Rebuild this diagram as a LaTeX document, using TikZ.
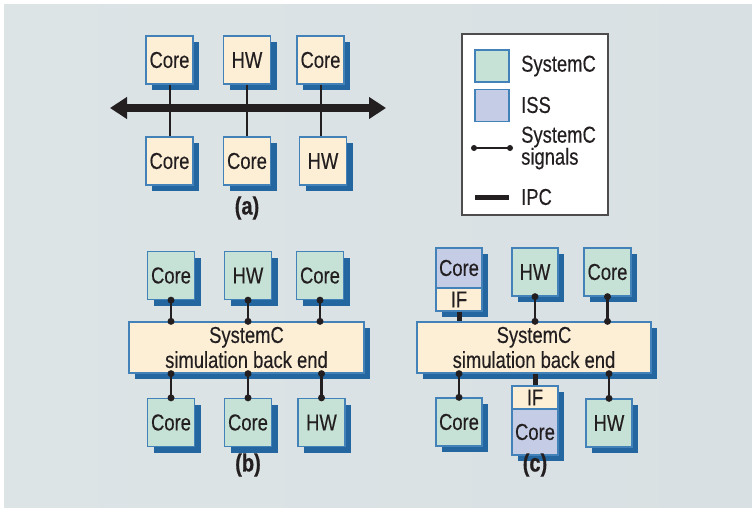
\documentclass[tikz,border=0pt]{standalone}
\usepackage{fontspec}
\setmainfont[FakeStretch=0.80,FakeBold=0.3,BoldFeatures={FakeBold=0.6}]{Liberation Sans}
\usetikzlibrary{arrows.meta,shadows}
\definecolor{bgL}{HTML}{DCE4E6}
\definecolor{bgM}{HTML}{F0F4F5}
\definecolor{bgR}{HTML}{D8E0E3}
\definecolor{cream}{HTML}{FDEFD6}
\definecolor{scgreen}{HTML}{C6E1D6}
\definecolor{isslav}{HTML}{C4CCE6}
\definecolor{edge}{HTML}{4282B9}
\definecolor{shadowblue}{HTML}{2366A0}
\definecolor{ink}{HTML}{231F20}
\tikzset{
  blk/.style={draw=edge, line width=1.3pt, inner sep=0pt, text=ink,
    align=center, font=\fontsize{23}{25}\selectfont,
    drop shadow={shadow xshift=6pt, shadow yshift=-6pt, fill=shadowblue, opacity=1}},
  unit/.style={blk, minimum width=47pt, minimum height=48pt},
  hwa/.style={unit, fill=cream},
  sysc/.style={unit, fill=scgreen},
  backend/.style={blk, fill=cream, minimum width=235pt, minimum height=51pt},
  iss/.style={blk, fill=isslav, minimum width=46pt},
  ifc/.style={blk, fill=cream, minimum width=46pt, minimum height=23pt},
  sig/.style={draw=ink, line width=2.8pt},
  tap/.style={draw=ink, line width=2pt},
  ipc/.style={draw=ink, line width=5pt},
  figlabel/.style={text=ink, font=\bfseries\fontsize{25}{27}\selectfont},
  lgtext/.style={text=ink, anchor=west, align=left, inner sep=0pt,
    font=\fontsize{23}{22}\selectfont},
  swatch/.style={draw=edge, line width=1.3pt, minimum width=34pt, minimum height=32pt, inner sep=0pt}
}
% signal connector with dots at both ends
\newcommand\sigline[2]{%
  \draw[sig] (#1) -- (#2);
  \fill[ink] (#1) circle (3.5pt);
  \fill[ink] (#2) circle (3.5pt);}
\begin{document}
\begin{tikzpicture}[x=1pt,y=-1pt]
\useasboundingbox (0,0) rectangle (752,508);
\shade[left color=bgL, middle color=bgM, right color=bgR] (4,5) rectangle (752,508);

% ---------- (a) shared bus ----------
\node[hwa] (a1) at (169.5,60) {Core};
\node[hwa] (a2) at (247,60) {HW};
\node[hwa] (a3) at (320.5,60) {Core};
\node[hwa] (a4) at (169.5,161) {Core};
\node[hwa] (a5) at (247,161) {Core};
\node[hwa] (a6) at (323,161) {HW};
\coordinate (busL) at (110,108);
\coordinate (busR) at (386,108);
\draw[tap] (a1.south) -- (a1.south |- a4.north);
\draw[tap] (a2.south) -- (a2.south |- a5.north);
\draw[tap] (a3.south) -- (a3.south |- a6.north);
\draw[line width=7.5pt, ink, {Triangle[length=17pt,width=21pt]}-{Triangle[length=17pt,width=21pt]}] (busL) -- (busR);
\node[figlabel] (capa) at (247,208) {(a)};

% ---------- (b) SystemC back end ----------
\node[sysc] (b1) at (171,275.5) {Core};
\node[sysc] (b2) at (248,275.5) {HW};
\node[sysc] (b3) at (320,275.5) {Core};
\node[backend] (bb) at (246.5,347.5) {SystemC\\simulation back end};
\node[sysc] (b4) at (171,422.5) {Core};
\node[sysc] (b5) at (248,422.5) {Core};
\node[sysc] (b6) at (321.5,422.5) {HW};
\sigline{b1.south}{b1.south |- bb.north}
\sigline{b2.south}{b2.south |- bb.north}
\sigline{b3.south}{b3.south |- bb.north}
\sigline{b4.north}{b4.north |- bb.south}
\sigline{b5.north}{b5.north |- bb.south}
\sigline{b6.north}{b6.north |- bb.south}
\node[figlabel] (capb) at (248,465) {(b)};

% ---------- (c) back end with ISS cores ----------
\node[iss, minimum height=40pt] (c1) at (459,268) {Core};
\node[ifc] (c1if) at (459,299.5) {IF};
\node[sysc, minimum width=46pt] (c2) at (535,272) {HW};
\node[sysc] (c3) at (607.5,272) {Core};
\node[backend, minimum width=234pt] (cb) at (534,347.5) {SystemC\\simulation back end};
\node[sysc, minimum width=46pt] (c4) at (459,422) {Core};
\node[ifc] (c5if) at (535,397.5) {IF};
\node[iss, minimum height=46pt] (c5) at (535,432) {Core};
\node[sysc, minimum width=46pt] (c6) at (609,423) {HW};
\draw[ipc] (c1if.south) -- (c1if.south |- cb.north);
\draw[ipc] (c5if.north) -- (c5if.north |- cb.south);
\sigline{c2.south}{c2.south |- cb.north}
\sigline{c3.south}{c3.south |- cb.north}
\sigline{c4.north}{c4.north |- cb.south}
\sigline{c6.north}{c6.north |- cb.south}
\node[figlabel] (capc) at (535,465) {(c)};

% ---------- legend ----------
\node[draw=ink!80, line width=1.2pt, fill=white, minimum width=146pt, minimum height=181pt, inner sep=0pt] (key) at (535,124.5) {};
\node[swatch, fill=scgreen] (kgreen) at (492,66) {};
\node[lgtext] (tgreen) at (521,66) {SystemC};
\node[swatch, fill=isslav] (kiss) at (492,105.5) {};
\node[lgtext] (tiss) at (521,105) {ISS};
\coordinate (ks1) at (474,148);
\coordinate (ks2) at (510,148);
\draw[ink, line width=2pt] (ks1) -- (ks2);
\fill[ink] (ks1) circle (3pt);
\fill[ink] (ks2) circle (3pt);
\node[lgtext] (tsig) at (521,148) {SystemC\\signals};
\coordinate (kp1) at (475,197);
\coordinate (kp2) at (509,197);
\draw[ipc] (kp1) -- (kp2);
\node[lgtext] (tipc) at (521,197) {IPC};
\end{tikzpicture}
\end{document}
